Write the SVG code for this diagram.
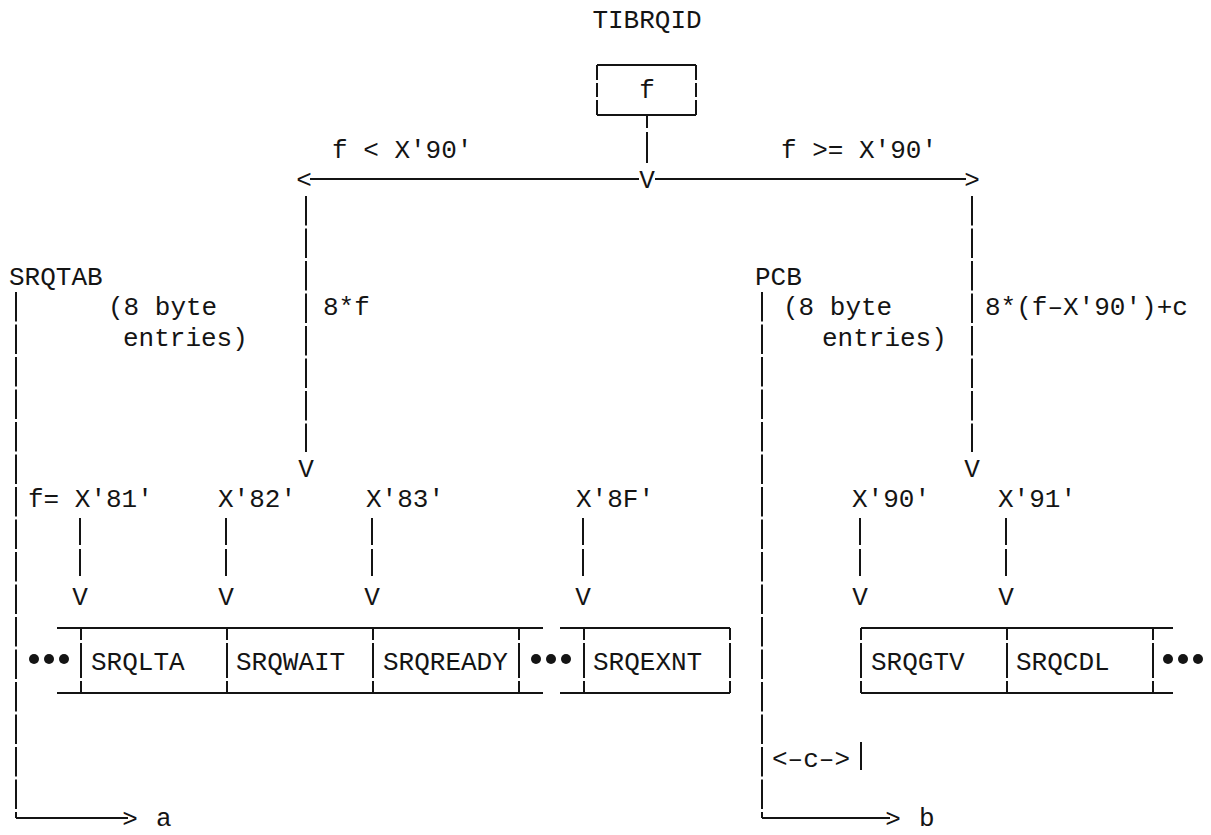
<svg xmlns="http://www.w3.org/2000/svg" width="1211" height="835" viewBox="0 0 1211 835">
  <style>
    .t { font-family: "Liberation Mono", "DejaVu Sans Mono", monospace; font-size: 26px; fill: #141414; }
    .m { text-anchor: middle; }
    .ln { stroke: #141414; stroke-width: 2; fill: none; }
    .dv { stroke-dasharray: 29.5 3; }
    .stem { stroke-dasharray: 27 4; }
    .side { stroke-dasharray: 15 3 14 3 15; }
    .cell { stroke-dasharray: 12 3 35 3 12; }
    .dot { fill: #141414; }
  </style>
  <rect width="1211" height="835" fill="#ffffff"/>

  <g id="tibrqid">
    <text class="t m" x="647" y="28">TIBRQID</text>
    <line class="ln" x1="597" y1="65" x2="696" y2="65"/>
    <line class="ln" x1="597" y1="115" x2="696" y2="115"/>
    <line class="ln side" x1="597" y1="65" x2="597" y2="115"/>
    <line class="ln side" x1="696" y1="65" x2="696" y2="115"/>
    <text class="t m" x="647" y="98">f</text>
  </g>

  <g id="cond-left"><text class="t" x="332" y="158">f &lt; X'90'</text></g>
  <g id="cond-right"><text class="t" x="781" y="158">f &gt;= X'90'</text></g>

  <g id="srqtab">
    <text class="t" x="9" y="285">SRQTAB</text>
    <text class="t" x="108" y="315">(8 byte</text>
    <text class="t" x="123" y="346">entries)</text>
  </g>
  <g id="offset-left"><text class="t" x="323" y="315">8*f</text></g>

  <g id="pcb">
    <text class="t" x="755" y="285">PCB</text>
    <text class="t" x="783" y="315">(8 byte</text>
    <text class="t" x="822" y="346">entries)</text>
  </g>
  <g id="offset-right"><text class="t" x="985" y="315">8*(f–X'90')+c</text></g>

  <g id="index-labels">
    <text class="t" x="28" y="507">f= X'81'</text>
    <text class="t" x="218" y="507">X'82'</text>
    <text class="t" x="366" y="507">X'83'</text>
    <text class="t" x="576" y="507">X'8F'</text>
    <text class="t" x="852" y="507">X'90'</text>
    <text class="t" x="998" y="507">X'91'</text>
  </g>

  <g id="table-left">
    <line class="ln" x1="57" y1="628" x2="543" y2="628"/>
    <line class="ln" x1="57" y1="693" x2="543" y2="693"/>
    <line class="ln" x1="560" y1="628" x2="730" y2="628"/>
    <line class="ln" x1="560" y1="693" x2="730" y2="693"/>
    <circle class="dot" cx="34" cy="659" r="5"/>
    <circle class="dot" cx="49" cy="659" r="5"/>
    <circle class="dot" cx="64" cy="659" r="5"/>
    <line class="ln cell" x1="81" y1="628" x2="81" y2="693"/>
    <text class="t" x="91" y="670">SRQLTA</text>
    <line class="ln cell" x1="227" y1="628" x2="227" y2="693"/>
    <text class="t" x="236" y="670">SRQWAIT</text>
    <line class="ln cell" x1="373" y1="628" x2="373" y2="693"/>
    <text class="t" x="383" y="670">SRQREADY</text>
    <line class="ln cell" x1="519" y1="628" x2="519" y2="693"/>
    <circle class="dot" cx="536" cy="659" r="5"/>
    <circle class="dot" cx="551" cy="659" r="5"/>
    <circle class="dot" cx="566" cy="659" r="5"/>
    <line class="ln cell" x1="584" y1="628" x2="584" y2="693"/>
    <text class="t" x="593" y="670">SRQEXNT</text>
    <line class="ln cell" x1="730" y1="628" x2="730" y2="693"/>
  </g>

  <g id="table-right">
    <line class="ln" x1="861" y1="628" x2="1173" y2="628"/>
    <line class="ln" x1="861" y1="693" x2="1173" y2="693"/>
    <line class="ln cell" x1="861" y1="628" x2="861" y2="693"/>
    <text class="t" x="871" y="670">SRQGTV</text>
    <line class="ln cell" x1="1007" y1="628" x2="1007" y2="693"/>
    <text class="t" x="1016" y="670">SRQCDL</text>
    <line class="ln cell" x1="1153" y1="628" x2="1153" y2="693"/>
    <circle class="dot" cx="1168" cy="659" r="5"/>
    <circle class="dot" cx="1183" cy="659" r="5"/>
    <circle class="dot" cx="1198" cy="659" r="5"/>
  </g>

  <g id="c-span">
    <text class="t" x="772" y="767">&lt;–c–&gt;</text>
    <line class="ln" x1="861" y1="742" x2="861" y2="770"/>
  </g>

  <g id="target-a"><text class="t" x="156" y="826">a</text></g>
  <g id="target-b"><text class="t" x="919" y="826">b</text></g>

  <g id="connectors">
    <line class="ln" x1="647" y1="115" x2="647" y2="128"/>
    <line class="ln" x1="647" y1="132" x2="647" y2="163"/>
    <text class="t m" x="647" y="188">V</text>
    <line class="ln" x1="310" y1="179" x2="639" y2="179"/>
    <line class="ln" x1="655" y1="179" x2="966" y2="179"/>
    <text class="t m" x="304" y="188">&lt;</text>
    <text class="t m" x="972" y="188">&gt;</text>
    <line class="ln dv" x1="306" y1="196" x2="306" y2="452"/>
    <text class="t m" x="306" y="477">V</text>
    <line class="ln dv" x1="972" y1="196" x2="972" y2="452"/>
    <text class="t m" x="972" y="477">V</text>
    <line class="ln stem" x1="80" y1="518" x2="80" y2="578"/>
    <text class="t m" x="80" y="605">V</text>
    <line class="ln stem" x1="226" y1="518" x2="226" y2="578"/>
    <text class="t m" x="226" y="605">V</text>
    <line class="ln stem" x1="372" y1="518" x2="372" y2="578"/>
    <text class="t m" x="372" y="605">V</text>
    <line class="ln stem" x1="583" y1="518" x2="583" y2="578"/>
    <text class="t m" x="583" y="605">V</text>
    <line class="ln stem" x1="860" y1="518" x2="860" y2="578"/>
    <text class="t m" x="860" y="605">V</text>
    <line class="ln stem" x1="1006" y1="518" x2="1006" y2="578"/>
    <text class="t m" x="1006" y="605">V</text>
    <line class="ln dv" x1="16" y1="292" x2="16" y2="818"/>
    <line class="ln" x1="16" y1="818" x2="128" y2="818"/>
    <text class="t m" x="130" y="827">&gt;</text>
    <line class="ln dv" x1="762" y1="292" x2="762" y2="818"/>
    <line class="ln" x1="762" y1="818" x2="890" y2="818"/>
    <text class="t m" x="893" y="827">&gt;</text>
  </g>
</svg>
